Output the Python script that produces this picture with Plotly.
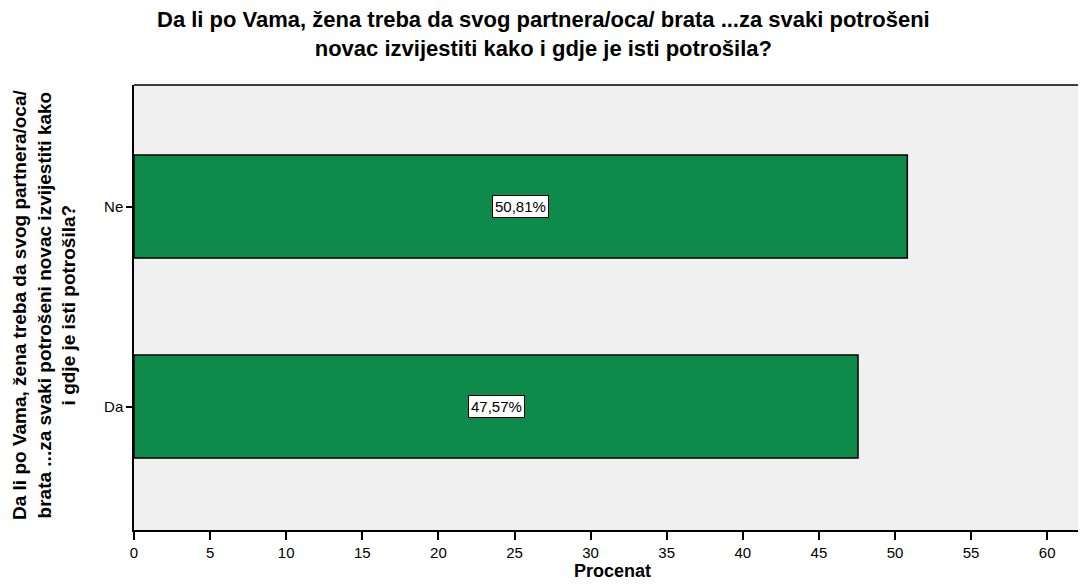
import plotly.graph_objects as go

categories = ["Da", "Ne"]
percent = [47.57, 50.81]
labels = ["47,57%", "50,81%"]
x_ticks = [0, 5, 10, 15, 20, 25, 30, 35, 40, 45, 50, 55, 60]

title_text = ("Da li po Vama, žena treba da svog partnera/oca/ brata ...za svaki potrošeni"
              "<br>novac izvijestiti kako i gdje je isti potrošila?")
y_title_text = ("Da li po Vama, žena treba da svog partnera/oca/<br>"
                "brata ...za svaki potrošeni novac izvijestiti kako<br>"
                "i gdje je isti potrošila?")

font = "Liberation Sans, Arial"

# the page body has an 8px margin, so work in figure px = page px - 8
OFF = 8
W, H = 1086 - OFF, 588 - 2 * OFF
L, R, T, B = 134 - OFF, 1086 - OFF, 85 - OFF, 530 - OFF
pw, ph = R - L, B - T

fig = go.Figure()
fig.add_trace(go.Bar(
    x=percent, y=categories, orientation="h",
    width=0.515,
    marker=dict(color="#0e8a4a", line=dict(color="black", width=1.5)),
    hoverinfo="skip",
))

for cat, val, lab in zip(categories, percent, labels):
    fig.add_annotation(
        x=val / 2, y=cat, text=lab, showarrow=False,
        font=dict(family=font, size=15, color="black"),
        bgcolor="white", bordercolor="black", borderwidth=1, borderpad=2,
    )

fig.add_annotation(
    xref="paper", yref="paper", x=(543 - OFF - L) / pw, y=1 + (T - (34 - OFF)) / ph,
    xanchor="center", yanchor="middle", showarrow=False, text=title_text,
    font=dict(family=font, size=22, color="black", weight="bold"),
)
fig.add_annotation(
    xref="paper", yref="paper", x=(44 - OFF - L) / pw, y=(B - (305 - OFF)) / ph,
    xanchor="center", yanchor="middle", showarrow=False, text=y_title_text,
    textangle=-90,
    font=dict(family=font, size=19, color="black", weight="bold"),
)
fig.add_annotation(
    xref="paper", yref="paper", x=(612 - OFF - L) / pw, y=-((571 - OFF) - B) / ph,
    xanchor="center", yanchor="middle", showarrow=False, text="Procenat",
    font=dict(family=font, size=18, color="black", weight="bold"),
)

fig.update_layout(
    width=W, height=H,
    margin=dict(l=L, r=W - R, t=T, b=H - B),
    paper_bgcolor="white", plot_bgcolor="#f0f0f0",
    showlegend=False,
    xaxis=dict(
        range=[0, 62.55], tickvals=x_ticks, showgrid=False, zeroline=False,
        showline=True, linecolor="black", linewidth=1.5, automargin=False,
        ticks="outside", ticklen=8, tickcolor="black", tickwidth=1.5,
        tickfont=dict(family=font, size=15, color="black"),
    ),
    yaxis=dict(
        range=[-0.6175, 1.6075], showgrid=False, zeroline=False,
        showline=True, linecolor="black", linewidth=1.5, automargin=False,
        ticks="outside", ticklen=6, tickcolor="black", tickwidth=1.5,
        tickfont=dict(family=font, size=15, color="black"),
    ),
)

# top border of the plot area
fig.add_shape(type="line", xref="paper", yref="paper", x0=0, x1=1, y0=1, y1=1,
              line=dict(color="black", width=1.5))

fig.write_html("out.html")
